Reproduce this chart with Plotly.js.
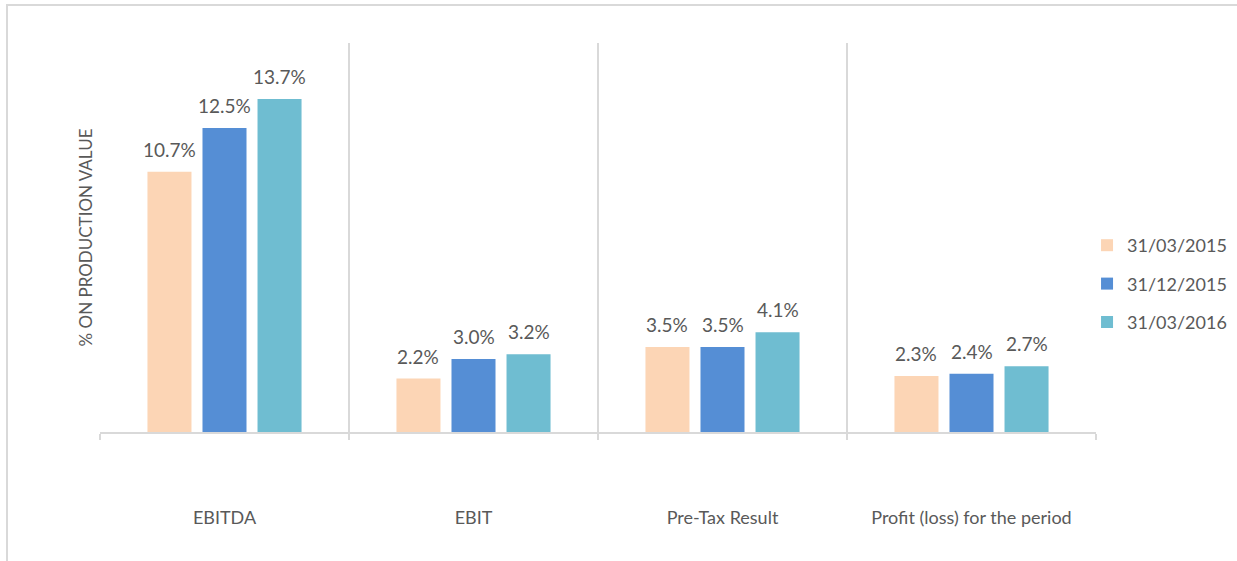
<!DOCTYPE html>
<html>
<head>
<meta charset="utf-8">
<script src="https://cdn.plot.ly/plotly-3.0.1.min.js"></script>
<style>
  html, body { margin: 0; padding: 0; background: #fff; }
  #wrap { position: relative; width: 1237px; height: 561px; overflow: hidden; }
  #chart { position: absolute; left: 0; top: 0; width: 1237px; height: 561px; }
  #frame { position: absolute; left: 6px; top: 4px; width: 1300px; height: 600px;
           border-left: 2px solid #d9d9d9; border-top: 2px solid #d9d9d9; pointer-events: none; }
</style>
</head>
<body>
<div id="wrap"><div id="chart"></div><div id="frame"></div></div>
<script>
const categories = ["EBITDA", "EBIT", "Pre-Tax Result", "Profit (loss) for the period"];
const seriesNames = ["31/03/2015", "31/12/2015", "31/03/2016"];
const mar2015 = [10.7, 2.2, 3.5, 2.3];
const dec2015 = [12.5, 3.0, 3.5, 2.4];
const mar2016 = [13.7, 3.2, 4.1, 2.7];
const seriesColors = ["#fcd5b5", "#558ed5", "#6fbdd1"];
const yTitle = "% ON PRODUCTION VALUE";

const allSeries = [mar2015, dec2015, mar2016];
const font = "Lato, 'Open Sans', sans-serif";
const textColor = "#595959";
const bargap = 0.337;

const traces = allSeries.map((vals, i) => ({
  type: "bar",
  name: seriesNames[i],
  legendgroup: "g" + i,
  x: categories,
  y: vals,
  marker: { color: seriesColors[i], line: { width: 0 } },
  hoverinfo: "x+y+name"
}));

// data labels: placed over each bar via the axis scales (category index + group slot offset)
const slot = (1 - bargap) / allSeries.length;
const annotations = [];
allSeries.forEach((vals, i) => {
  vals.forEach((v, c) => {
    annotations.push({
      xref: "x", yref: "y",
      x: c + (i - (allSeries.length - 1) / 2) * slot,
      y: v,
      text: v.toFixed(1) + "%",
      showarrow: false,
      xanchor: "center", yanchor: "bottom",
      yshift: 9,
      font: { family: font, size: 19, color: textColor }
    });
  });
});

const layout = {
  width: 1237, height: 561,
  margin: { l: 100, r: 141, t: 43, b: 129, autoexpand: false },
  paper_bgcolor: "#ffffff",
  plot_bgcolor: "#ffffff",
  barmode: "group",
  bargap: bargap,
  bargroupgap: 0.2,
  showlegend: true,
  legend: {
    x: 0.991, xanchor: "left", y: 0.527, yanchor: "top",
    font: { family: font, size: 18, color: textColor },
    tracegroupgap: 12,
    itemwidth: 30,
    bgcolor: "rgba(0,0,0,0)"
  },
  annotations: annotations,
  xaxis: {
    type: "category",
    tickson: "boundaries",
    ticks: "outside",
    ticklen: 6,
    tickcolor: "#d9d9d9",
    tickwidth: 2,
    showgrid: true,
    gridcolor: "#d9d9d9",
    gridwidth: 2,
    showline: true,
    linecolor: "#d9d9d9",
    linewidth: 2,
    ticklabelstandoff: 68,
    tickfont: { family: font, size: 18, color: textColor },
    fixedrange: true
  },
  yaxis: {
    range: [0, 16],
    showgrid: false,
    zeroline: false,
    showline: false,
    showticklabels: false,
    ticks: "",
    title: { text: yTitle, font: { family: font, size: 17, color: textColor }, standoff: 2 },
    fixedrange: true
  }
};

Plotly.newPlot("chart", traces, layout, { displayModeBar: false, staticPlot: true });
</script>
</body>
</html>
